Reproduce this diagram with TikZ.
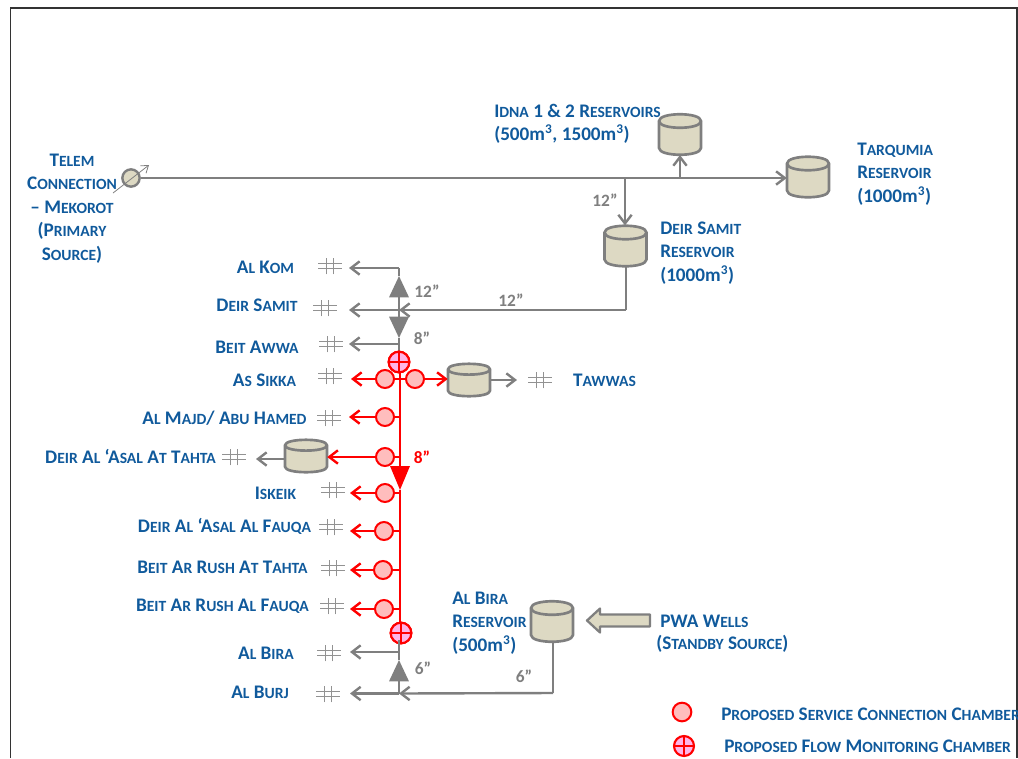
\documentclass[tikz,border=0pt]{standalone}
\usepackage{fontspec}
\setmainfont{Carlito}
\usetikzlibrary{arrows.meta,shapes.geometric}
\definecolor{txtblue}{HTML}{105A9C}
\definecolor{pipegrey}{HTML}{7F7F7F}
\definecolor{tanfill}{HTML}{DDD9C3}
\definecolor{chpink}{HTML}{FFBDBD}
\definecolor{flowpink}{HTML}{FFB5E8}
\newcommand\sm[1]{{\fontsize{11.7}{12}\selectfont #1}}
\tikzset{
  lbl/.style={text=txtblue,font=\fontsize{14.4}{17.6}\selectfont\bfseries,inner sep=0pt,align=left},
  lblc/.style={lbl,align=center},
  size/.style={text=pipegrey,font=\fontsize{13}{14}\selectfont\bfseries,inner sep=0pt},
  tankbox/.style={minimum width=31.5pt,minimum height=30.5pt,inner sep=0pt},
  tankline/.style={draw=pipegrey,line width=2pt,line join=round},
  hash/.style={minimum width=18pt,minimum height=12.5pt,inner sep=0pt,path picture={
    \draw[pipegrey!85,line width=0.8pt]
      ([yshift=2.2pt]path picture bounding box.west)--([yshift=2.2pt]path picture bounding box.east)
      ([yshift=-2.2pt]path picture bounding box.west)--([yshift=-2.2pt]path picture bounding box.east)
      ([xshift=-2.4pt]path picture bounding box.south)--([xshift=-2.4pt]path picture bounding box.north)
      ([xshift=2.4pt]path picture bounding box.south)--([xshift=2.4pt]path picture bounding box.north);}},
  chamber/.style={circle,draw=red,line width=1.5pt,fill=chpink,minimum size=13.5pt,inner sep=0pt},
  flowch/.style={circle,draw=red,line width=1.6pt,fill=flowpink,minimum size=15.5pt,inner sep=0pt,path picture={
    \draw[red,line width=1.3pt]
      (path picture bounding box.west)--(path picture bounding box.east)
      (path picture bounding box.south)--(path picture bounding box.north);}},
  gp/.style={draw=pipegrey,line width=1.8pt},
  rp/.style={draw=red,line width=1.8pt},
  barb/.style={-{Straight Barb[length=6.5pt,width=10pt,line width=1.8pt]}},
  bigtip/.style={-{Triangle[length=16pt,width=14.5pt]}},
}
\newcommand\tanknode[3][1]{%
  \node[tankbox] (#2) at (#3) {};
  \begin{scope}[shift={(#3)},yscale=#1]
    \path[tankline,fill=tanfill] (-21,13.5) .. controls (-21,22.5) and (21,22.5) .. (21,13.5)
      -- (21,-13.5) .. controls (21,-22.5) and (-21,-22.5) .. (-21,-13.5) -- cycle;
    \path[tankline] (-21,-13.5) .. controls (-21,-4.5) and (21,-4.5) .. (21,-13.5);
  \end{scope}}
\begin{document}
\begin{tikzpicture}[x=0.75pt,y=-0.75pt]
\useasboundingbox (0,0) rectangle (1018,758);
% frame
\draw[black!80,line width=0.9pt] (10.5,758) -- (10.5,8) -- (1017,8) -- (1017,758);

% tanks
\tanknode{idna}{680,134.5}
\tanknode{tarq}{808,177}
\tanknode{dsr}{625.5,246}
\tanknode[0.8]{taw}{469,380}
\tanknode[0.8]{dat}{306,456}
\tanknode{bira}{552,621.5}

% source
\node[circle,draw=pipegrey,line width=1.8pt,fill=tanfill,minimum size=13pt,inner sep=0pt] (src) at (131,178) {};
\coordinate (sa) at (113,193);
\coordinate (sb) at (149,165);
\draw[pipegrey,line width=0.6pt,-{Straight Barb[length=5pt,width=7pt]}] (sa) -- (sb);

% main line
\coordinate (jds) at (625,178);
\coordinate (jid) at (680,178);
\draw[gp,barb] (src.east) -- (tarq.west |- src.east);
\draw[gp,barb] (jds) -- (jds |- dsr.north);
\draw[gp,barb] (jid) -- (jid |- idna.south);

% upper grey system
\coordinate (dsc) at (626,310);
\coordinate (ktop) at (399,268);
\coordinate (jm) at (399,310);
\coordinate (tipu) at (399,276);
\coordinate (tipd) at (399,338);
\coordinate (jb) at (399,344);
\draw[gp] (dsr.south -| dsc) -- (dsc);
\draw[gp,barb] (dsc) -- (jm);
\draw[gp,bigtip] (jm) -- (tipu);
\draw[gp] (tipu) -- (ktop);
\draw[gp,bigtip] (jm) -- (tipd);

% hashes
\node[hash] (hkom) at (330,266) {};
\node[hash] (hds) at (325,308) {};
\node[hash] (hba) at (331,344) {};
\node[hash] (has) at (330,376) {};
\node[hash] (hmaj) at (329,418) {};
\node[hash] (htaw) at (540,380) {};
\node[hash] (hdat) at (234,457) {};
\node[hash] (hisk) at (333,490) {};
\node[hash] (hdaf) at (331,527) {};
\node[hash] (hbrt) at (333,568) {};
\node[hash] (hbrf) at (332,606) {};
\node[hash] (hbir) at (329,653) {};
\node[hash] (hbur) at (328,694) {};

\coordinate (akom) at (349,268);
\coordinate (ads) at (349,310);
\coordinate (aba) at (349,344);
\draw[gp,barb] (ktop) -- (akom);
\draw[gp,barb] (jm) -- (ads);
\draw[gp] (tipd) -- (399,352);
\draw[gp,barb] (jb) -- (aba);

% red trunk
\node[flowch] (f1) at (399,362) {};
\node[flowch] (f2) at (401,633) {};
\coordinate (tipr) at (400,490);
\coordinate (trt) at (400,370);
\coordinate (trm) at (400,462);
\coordinate (trb) at (400,626);
\draw[rp] (trt) -- (trm);
\draw[rp,-{Triangle[length=18pt,width=14.5pt]}] (trm) -- (tipr);
\draw[rp] (tipr) -- (trb);
\node[flowch] at (399,362) {};
\node[flowch] at (401,633) {};

% chambers and branches
\node[chamber] (c1) at (385,379) {};
\node[chamber] (c2) at (415,379) {};
\node[chamber] (c3) at (385,417) {};
\node[chamber] (c4) at (385,457) {};
\node[chamber] (c5) at (385,493) {};
\node[chamber] (c6) at (384,531) {};
\node[chamber] (c7) at (383,570) {};
\node[chamber] (c8) at (384,609) {};
\foreach \c/\e in {c1/351,c3/349,c5/350,c6/350,c7/350,c8/350}{
  \draw[rp,barb] (\c.west) -- (\e,0 |- \c.west);
  \draw[rp] (\c.east) -- (400,0 |- \c.east);
}
\draw[rp] (c1.east) -- (c2.west);
\draw[rp,barb] (c2.east) -- (taw.west |- c2.east);
\draw[rp] (c4.east) -- (400,0 |- c4.east);
\draw[rp,barb] (c4.west) -- (dat.east |- c4.west);
\coordinate (atw) at (517,380);
\coordinate (adt) at (256,459);
\draw[gp,barb] (taw.east |- atw) -- (atw);
\draw[gp,barb] (dat.west |- adt) -- (adt);

% lower grey system
\coordinate (jbi) at (399,652);
\coordinate (jbu) at (399,693.5);
\coordinate (tipl) at (399,660);
\coordinate (brc) at (553,693);
\draw[gp] (f2) ++(-2,7) -- (jbi);
\draw[gp] (tipl) -- (jbi);
\draw[gp,bigtip] (jbu) -- (tipl);
\draw[gp,barb] (jbi) -- (350,652);
\draw[gp,barb] (jbu) -- (350,693.5);
\draw[gp] (bira.south -| brc) -- (brc);
\draw[gp,barb] (brc) -- (jbu);
% block arrow of the standby source
\node[minimum width=47pt,minimum height=18pt,inner sep=0pt] (pwa) at (618.5,620.5) {};
\path[draw=pipegrey,line width=1.7pt,fill=tanfill,line join=round]
  (587,620.5) -- (600,608.5) -- (600,614.5) -- (650,614.5) -- (650,626.5) -- (600,626.5) -- (600,632.5) -- cycle;

% labels
\node[lblc] (tel) at (72,208.5) {T\sm{ELEM}\\C\sm{ONNECTION}\\– M\sm{EKOROT}\\(P\sm{RIMARY}\\S\sm{OURCE})};
\node[lbl,anchor=west] (lid) at (494,124) {I\sm{DNA} 1 \& 2 R\sm{ESERVOIRS}\\(500m\textsuperscript{3}, 1500m\textsuperscript{3})};
\node[lbl,anchor=west] (ltq) at (857,174) {T\sm{ARQUMIA}\\R\sm{ESERVOIR}\\(1000m\textsuperscript{3})};
\node[lbl,anchor=west] (lds) at (660,253) {D\sm{EIR} S\sm{AMIT}\\R\sm{ESERVOIR}\\(1000m\textsuperscript{3})};
\node[lbl,anchor=west] (lbr) at (452,623) {A\sm{L} B\sm{IRA}\\R\sm{ESERVOIR}\\(500m\textsuperscript{3})};
\node[lbl,anchor=west] (lpw1) at (660,621) {PWA W\sm{ELLS}};
\node[lbl,anchor=west] (lpw2) at (656,644) {(S\sm{TANDBY} S\sm{OURCE})};
\node[lbl] (l1) at (265.5,267) {A\sm{L} K\sm{OM}};
\node[lbl] (l2) at (257,305) {D\sm{EIR} S\sm{AMIT}};
\node[lbl] (l3) at (257,347) {B\sm{EIT} A\sm{WWA}};
\node[lbl] (l4) at (264.5,380) {A\sm{S} S\sm{IKKA}};
\node[lbl] (l5) at (224.5,418) {A\sm{L} M\sm{AJD}/ A\sm{BU} H\sm{AMED}};
\node[lbl] (l6) at (130.5,456) {D\sm{EIR} A\sm{L} ‘A\sm{SAL} A\sm{T} T\sm{AHTA}};
\node[lbl] (l7) at (275.5,493) {I\sm{SKEIK}};
\node[lbl] (l8) at (224.5,526) {D\sm{EIR} A\sm{L} ‘A\sm{SAL} A\sm{L} F\sm{AUQA}};
\node[lbl] (l9) at (222.5,567) {B\sm{EIT} A\sm{R} R\sm{USH} A\sm{T} T\sm{AHTA}};
\node[lbl] (l10) at (222.5,606) {B\sm{EIT} A\sm{R} R\sm{USH} A\sm{L} F\sm{AUQA}};
\node[lbl] (l11) at (266,653) {A\sm{L} B\sm{IRA}};
\node[lbl] (l12) at (260,692) {A\sm{L} B\sm{URJ}};
\node[lbl] (l13) at (604.5,380) {T\sm{AWWAS}};

% sizes
\node[size] (s1) at (605,200) {12”};
\node[size] (s2) at (427,291) {12”};
\node[size] (s3) at (511,300) {12”};
\node[size] (s4) at (422,338) {8”};
\node[size,text=red] (s5) at (422,457) {8”};
\node[size] (s6) at (423,668) {6”};
\node[size] (s7) at (524,676) {6”};

% legend
\node[chamber,minimum size=14pt] (lc) at (682,712) {};
\node[flowch,minimum size=15pt] (lf) at (684,746) {};
\begin{scope}
\clip (640,690) rectangle (1017,758);
\node[lbl,anchor=west] (t1) at (721,714) {P\sm{ROPOSED} S\sm{ERVICE} C\sm{ONNECTION} C\sm{HAMBER}};
\node[lbl,anchor=west] (t2) at (724,746) {P\sm{ROPOSED} F\sm{LOW} M\sm{ONITORING} C\sm{HAMBER}};
\end{scope}
\end{tikzpicture}
\end{document}
